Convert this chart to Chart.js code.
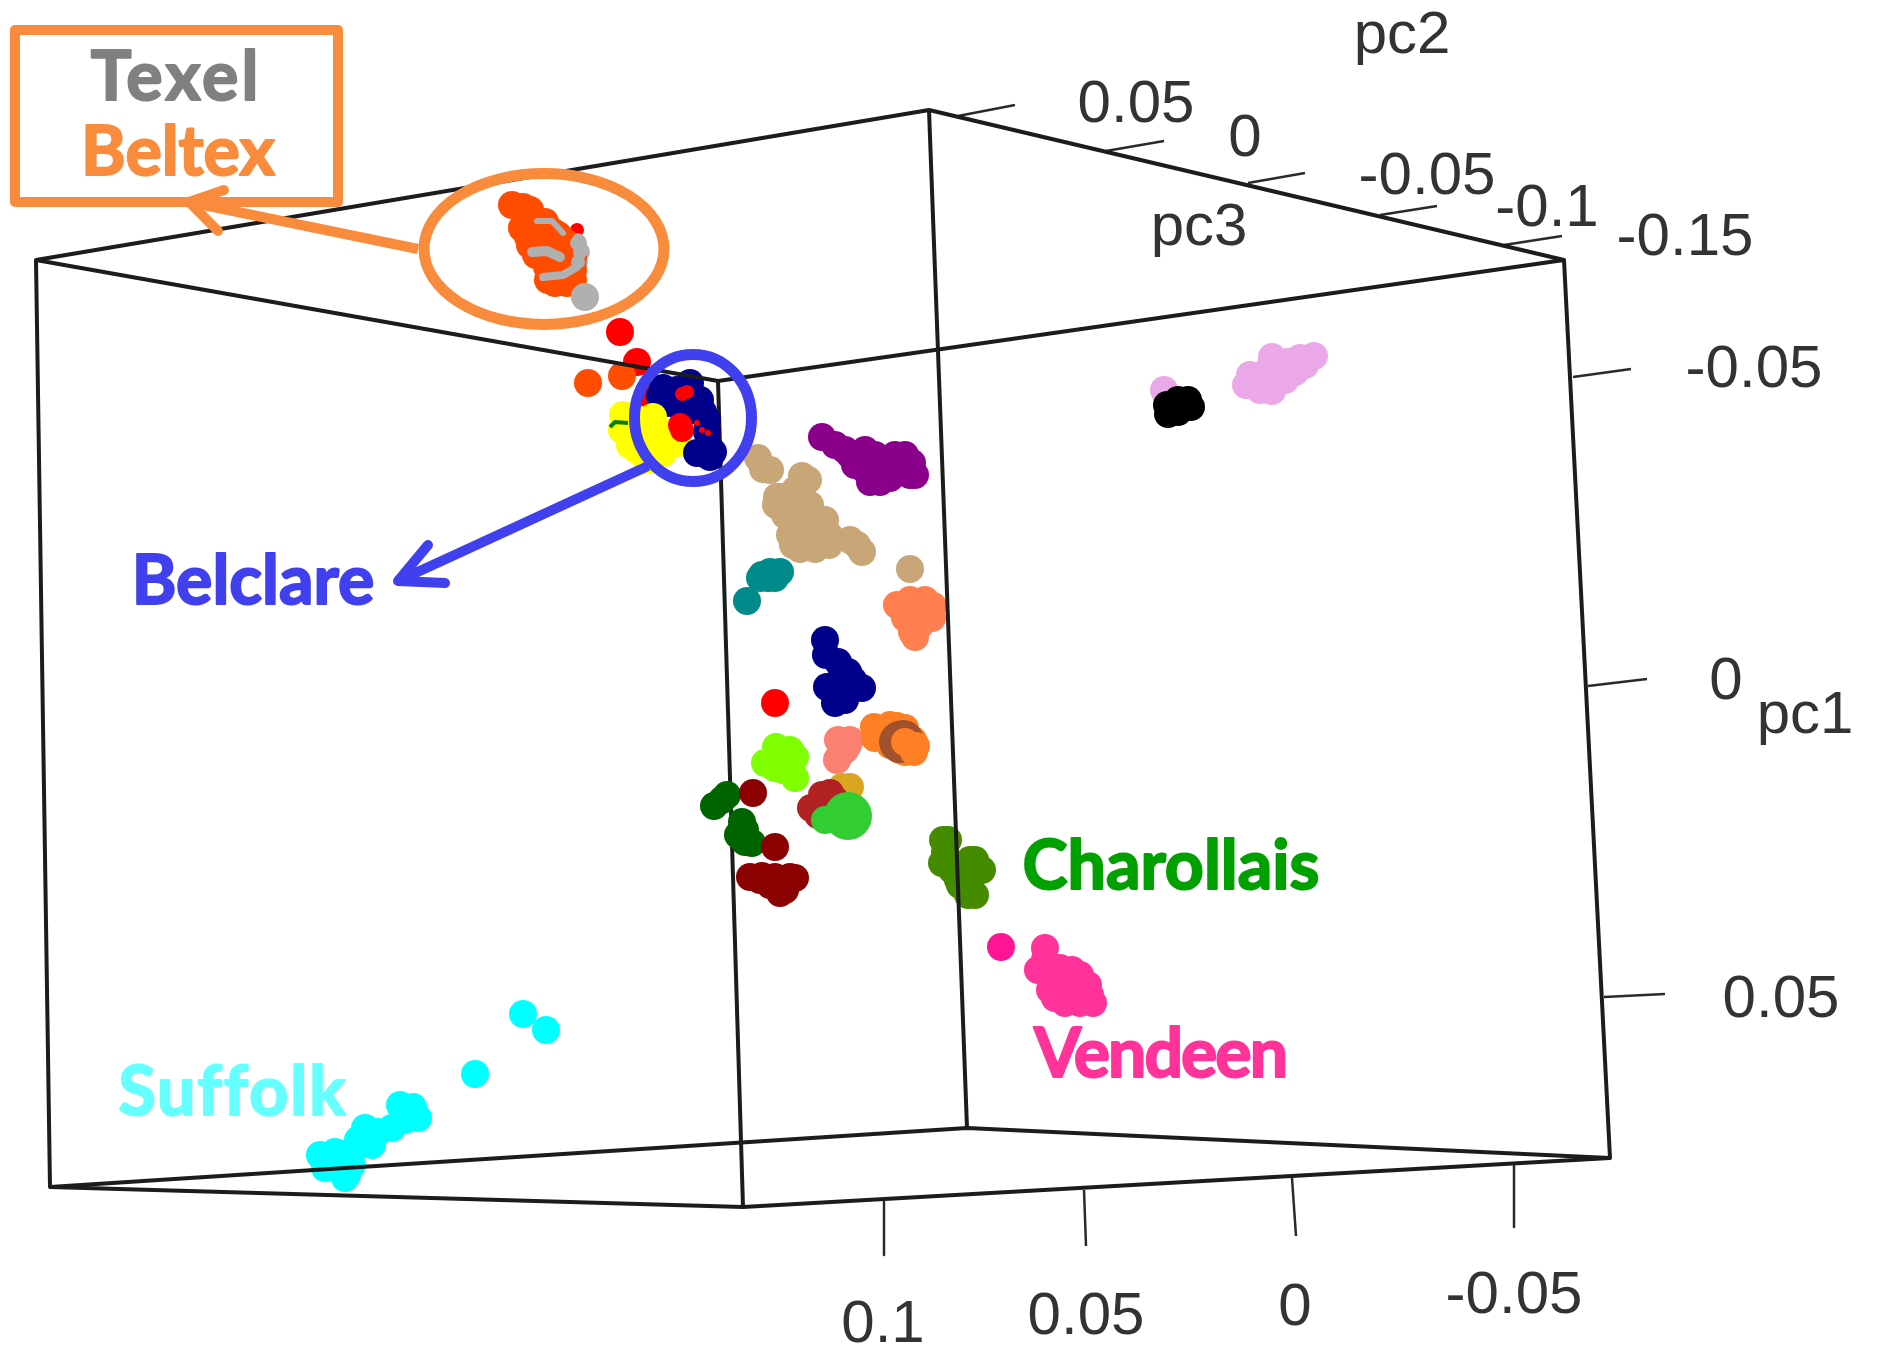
<!DOCTYPE html>
<html>
<head>
<meta charset="utf-8">
<title>PCA of sheep breeds</title>
<script src="https://cdn.jsdelivr.net/npm/chart.js@4"></script>
<style>
    html, body { margin: 0; padding: 0; background: #fff; }
    canvas { display: block; }
</style>
</head>
<body>
<canvas id="pcaChart" width="1877" height="1349"></canvas>
<script>
const redFleck = [[577, 230]];
const beltex = [[512, 205], [523, 207], [530, 210], [527, 218], [545, 222], [522, 228], [530, 230], [543, 223], [553, 232], [558, 235], [566, 243], [528, 237], [530, 245], [540, 243], [556, 245], [565, 258], [573, 258], [536, 255], [547, 267], [573, 270], [548, 280], [555, 283], [567, 283], [573, 280], [562, 270]];
const texelSingle = [[585, 297]];
const texelRight = [[577, 243], [580, 252], [578, 262]];
const texelStrandA = [[537, 221], [552, 221], [563, 233]];
const texelStrandB = [[532, 252], [547, 251], [560, 257]];
const texelStrandC = [[543, 277], [563, 275], [577, 267], [582, 253], [577, 238]];
const redHigh = [[620, 332], [637, 362], [650, 398]];
const orangeRedSmall = [[588, 383], [622, 376]];
const navyHigh = [[690, 383], [663, 388], [677, 390], [660, 396], [672, 395], [690, 397], [700, 400], [667, 403], [680, 407], [693, 410], [703, 412], [707, 420], [707, 432]];
const yellow = [[623, 415], [640, 420], [622, 430], [653, 417], [640, 433], [663, 433], [677, 443], [630, 445], [650, 445], [637, 450], [663, 453], [647, 460], [650, 459]];
const navyLow = [[707, 455], [697, 453], [710, 457], [713, 452]];
const redBlob = [[680, 425], [682, 430]];
const redTriangle = [[682, 394], [687, 392]];
const redSpecks = [[697, 423], [702, 430], [708, 433]];
const tan = [[758, 458], [763, 469], [770, 470], [802, 476], [808, 480], [780, 497], [777, 497], [795, 490], [776, 505], [810, 505], [825, 520], [829, 535], [829, 545], [815, 549], [800, 549], [790, 520], [793, 545], [820, 535], [790, 535], [785, 515], [800, 515], [815, 525], [803, 535], [790, 500], [857, 545], [862, 552], [850, 540], [910, 569]];
const purple = [[822, 437], [835, 445], [845, 450], [855, 455], [865, 450], [875, 455], [885, 460], [895, 455], [905, 455], [912, 463], [915, 475], [910, 475], [895, 470], [880, 470], [865, 470], [855, 465], [870, 482], [880, 482], [890, 478], [850, 455]];
const teal = [[762, 575], [770, 572], [780, 572], [775, 578], [768, 578], [760, 578], [747, 601]];
const coral = [[897, 605], [910, 600], [925, 600], [933, 606], [932, 618], [920, 625], [905, 618], [912, 632], [915, 637], [905, 610], [920, 610]];
const navyMid = [[825, 640], [826, 655], [838, 662], [848, 672], [853, 680], [827, 687], [840, 690], [862, 688], [835, 703], [845, 700], [840, 680]];
const redMid = [[775, 703]];
const chartreuse = [[776, 747], [790, 750], [795, 757], [780, 760], [765, 763], [775, 768], [790, 768], [795, 778], [783, 770]];
const salmon = [[838, 740], [850, 740], [845, 750], [838, 758], [837, 760], [848, 745]];
const orangeBase = [[874, 727], [890, 725], [897, 726], [875, 738], [890, 745], [900, 750], [905, 752], [913, 740], [914, 745], [905, 728]];
const siennaRing = [[900, 742], [903, 741]];
const orangeTop = [[905, 742], [916, 746], [914, 752]];
const goldenrod = [[842, 787], [850, 787]];
const firebrick = [[822, 795], [830, 793], [811, 808], [818, 815], [825, 810], [835, 800]];
const limeDisc = [[848, 816]];
const limeGreen = [[825, 820]];
const darkGreen = [[727, 795], [714, 806], [722, 800], [742, 822], [745, 830], [738, 835], [745, 842], [752, 843]];
const darkRed = [[753, 793], [775, 847], [750, 877], [762, 876], [775, 877], [790, 877], [795, 878], [770, 885], [780, 893], [785, 890], [760, 880]];
const charollais = [[943, 840], [948, 840], [945, 852], [942, 863], [952, 865], [952, 870], [958, 880], [970, 860], [975, 860], [982, 870], [970, 875], [975, 895], [968, 895], [960, 885]];
const vendeenSmall = [[1001, 947]];
const vendeen = [[1045, 948], [1045, 960], [1038, 970], [1050, 970], [1060, 968], [1072, 970], [1080, 975], [1088, 985], [1090, 995], [1093, 1003], [1080, 1003], [1065, 1003], [1055, 998], [1050, 990], [1065, 985], [1080, 990], [1060, 975]];
const suffolkSmall = [[523, 1014], [546, 1030], [475, 1074]];
const suffolk = [[400, 1105], [413, 1107], [418, 1118], [405, 1120], [392, 1128], [378, 1132], [372, 1135], [365, 1128], [358, 1140], [372, 1145], [355, 1148], [350, 1155], [335, 1152], [320, 1155], [352, 1165], [335, 1165], [325, 1168], [340, 1170], [345, 1178], [347, 1175]];
const plum = [[1314, 356], [1300, 358], [1288, 362], [1272, 357], [1268, 370], [1250, 375], [1246, 385], [1260, 390], [1272, 391], [1285, 380], [1295, 372], [1305, 365], [1270, 380], [1164, 390]];
const black = [[1167, 405], [1178, 400], [1188, 400], [1191, 407], [1178, 412], [1168, 414]];

const boxFront = [[[718, 381], [743, 1207]]];
const boxEdges = [
    [[36, 260], [929, 110], [1564, 260], [718, 381], [36, 260], [50, 1187], [743, 1207], [1610, 1158], [1564, 260]],
    [[929, 110], [967, 1128]],
    [[50, 1187], [967, 1128], [1610, 1158]]
];
const axisTicks = [
    [[958, 116], [1015, 105]], [[1106, 151], [1164, 141]], [[1248, 183], [1305, 173]], [[1380, 215], [1437, 206]], [[1504, 245], [1562, 236]],
    [[1573, 377], [1631, 369]], [[1588, 686], [1647, 679]], [[1604, 997], [1665, 994]],
    [[884, 1202], [884, 1255]], [[1084, 1190], [1086, 1246]], [[1292, 1178], [1296, 1236]], [[1514, 1166], [1514, 1227]]
];
const tickLabels = ['pc2', '0.05', '0', '-0.05', '-0.1', '-0.15', 'pc3', '-0.05', '0', 'pc1', '0.05', '0.1', '0.05', '0', '-0.05'];
const tickLabelAt = [[1402, 36], [1136, 105], [1245, 139], [1427, 177], [1547, 209], [1685, 238], [1199, 228], [1754, 370], [1726, 682], [1805, 716], [1781, 1000], [883, 1325], [1086, 1317], [1295, 1308], [1514, 1296]];
const breedNames = ['Texel', 'Beltex', 'Belclare', 'Charollais', 'Vendeen', 'Suffolk'];
const breedAt = [[176, 78], [178, 153], [253, 582], [1171, 867], [1160, 1055], [233, 1093]];
const breedColors = ['#808080', '#f98c3c', '#4040ee', '#00a000', '#ff3399', '#66ffff'];
const breedSpacing = ['3px', '0px', '0px', '0px', '-2px', '2px'];

const orangeArrow = [[418, 249], [189, 202]];
const orangeHead = [[224, 190], [189, 202], [218, 231]];
const blueArrow = [[648, 466], [398, 581]];
const blueHead = [[428, 545], [398, 581], [445, 583]];
const greenTrace = [[610, 427], [615, 422], [628, 423]];
const labelBox = [[15, 30], [338, 202]];
const orangeRing = { cx: 544, cy: 249, rx: 120, ry: 75.5 };
const blueRing = { cx: 693, cy: 418, rx: 58.5, ry: 63.5 };

function xy(list) {
    return list.map(p => ({ x: p[0], y: p[1] }));
}

function dots(list, color, radius = 14) {
    return { data: xy(list), pointBackgroundColor: color, pointBorderWidth: 0, pointRadius: radius, showLine: false };
}

function line(list, color, width, cap = 'butt') {
    return { data: xy(list), borderColor: color, borderWidth: width, borderCapStyle: cap, borderJoinStyle: 'round', pointRadius: 0, showLine: true, fill: false };
}

// back to front
const layers = [
    ...boxFront.map(l => line(l, '#1c1c1c', 4)),
    ...axisTicks.map(l => line(l, '#2a2a2a', 2.5)),
    dots(redFleck, '#ff0000', 7),
    dots(texelRight, '#b0b0b0', 10),
    dots(beltex, '#ff4d00'),
    dots(texelSingle, '#b0b0b0'),
    dots(texelRight, '#b0b0b0', 7),
    line(texelStrandA, '#b0b0b0', 6, 'round'),
    line(texelStrandB, '#b0b0b0', 10, 'round'),
    line(texelStrandC, '#b0b0b0', 8, 'round'),
    dots(redHigh, '#ff0000'),
    dots(orangeRedSmall, '#ff4d00'),
    dots(navyHigh, '#00008b'),
    dots(yellow, '#ffff00'),
    line(greenTrace, '#0a7a0a', 4),
    dots(navyLow, '#00008b'),
    dots(redBlob, '#ff0000', 12),
    dots(redTriangle, '#ff0000', 7),
    dots(redSpecks, '#ff0000', 3),
    dots(tan, '#c9a678'),
    dots(purple, '#8b008b'),
    dots(teal, '#008b8b'),
    dots(coral, '#ff7f50'),
    dots(navyMid, '#00008b'),
    dots(redMid, '#ff0000'),
    dots(chartreuse, '#7fff00'),
    dots(salmon, '#fa8072'),
    dots(orangeBase, '#ff7f24'),
    dots(siennaRing, '#a0522d', 21),
    dots(orangeTop, '#ff7f24'),
    dots(goldenrod, '#daa520'),
    dots(firebrick, '#b22222'),
    dots(limeDisc, '#32cd32', 24),
    dots(limeGreen, '#32cd32'),
    dots(darkGreen, '#006400'),
    dots(darkRed, '#8b0000'),
    dots(charollais, '#458b00'),
    dots(vendeenSmall, '#ff1493'),
    dots(vendeen, '#ff3399'),
    dots(suffolkSmall, '#00ffff'),
    dots(suffolk, '#00ffff'),
    dots(plum, '#eaa8e8'),
    dots(black, '#000000'),
    ...boxEdges.map(l => line(l, '#1c1c1c', 4)),
    line(orangeArrow, '#f98c3c', 10),
    line(orangeHead, '#f98c3c', 10, 'round'),
    line(blueArrow, '#4040ee', 10),
    line(blueHead, '#4040ee', 10, 'round')
];
// Chart.js paints the lowest order last
layers.forEach((d, i) => { d.order = layers.length - i; });

const annotations = {
    id: 'annotations',
    afterDatasetsDraw(chart) {
        const { ctx, scales: { x, y } } = chart;
        ctx.save();

        ctx.strokeStyle = '#f98c3c';
        ctx.lineWidth = 10;
        ctx.lineJoin = 'round';
        ctx.strokeRect(x.getPixelForValue(labelBox[0][0]), y.getPixelForValue(labelBox[0][1]),
            labelBox[1][0] - labelBox[0][0], labelBox[1][1] - labelBox[0][1]);

        ctx.lineWidth = 11;
        [[orangeRing, '#f98c3c'], [blueRing, '#4040ee']].forEach(([r, color]) => {
            ctx.strokeStyle = color;
            ctx.beginPath();
            ctx.ellipse(x.getPixelForValue(r.cx), y.getPixelForValue(r.cy), r.rx, r.ry, 0, 0, Math.PI * 2);
            ctx.stroke();
        });

        ctx.textAlign = 'center';
        ctx.textBaseline = 'middle';

        ctx.font = '60px "Liberation Sans"';
        ctx.fillStyle = '#333';
        tickLabels.forEach((t, i) => {
            ctx.fillText(t, x.getPixelForValue(tickLabelAt[i][0]), y.getPixelForValue(tickLabelAt[i][1]));
        });

        ctx.font = 'bold 68px Lato';
        ctx.lineWidth = 2;
        breedNames.forEach((t, i) => {
            const px = x.getPixelForValue(breedAt[i][0]);
            const py = y.getPixelForValue(breedAt[i][1]);
            ctx.letterSpacing = breedSpacing[i];
            ctx.fillStyle = breedColors[i];
            ctx.strokeStyle = breedColors[i];
            ctx.fillText(t, px, py);
            ctx.strokeText(t, px, py);
        });

        ctx.restore();
    }
};

new Chart(document.getElementById('pcaChart'), {
    type: 'scatter',
    data: { datasets: layers },
    plugins: [annotations],
    options: {
        responsive: false,
        animation: false,
        layout: { padding: 0, autoPadding: false },
        clip: false,
        plugins: { legend: { display: false }, tooltip: { enabled: false } },
        scales: {
            x: { type: 'linear', min: 0, max: 1877, display: false },
            y: { type: 'linear', min: 0, max: 1349, reverse: true, display: false }
        }
    }
});
</script>
</body>
</html>
